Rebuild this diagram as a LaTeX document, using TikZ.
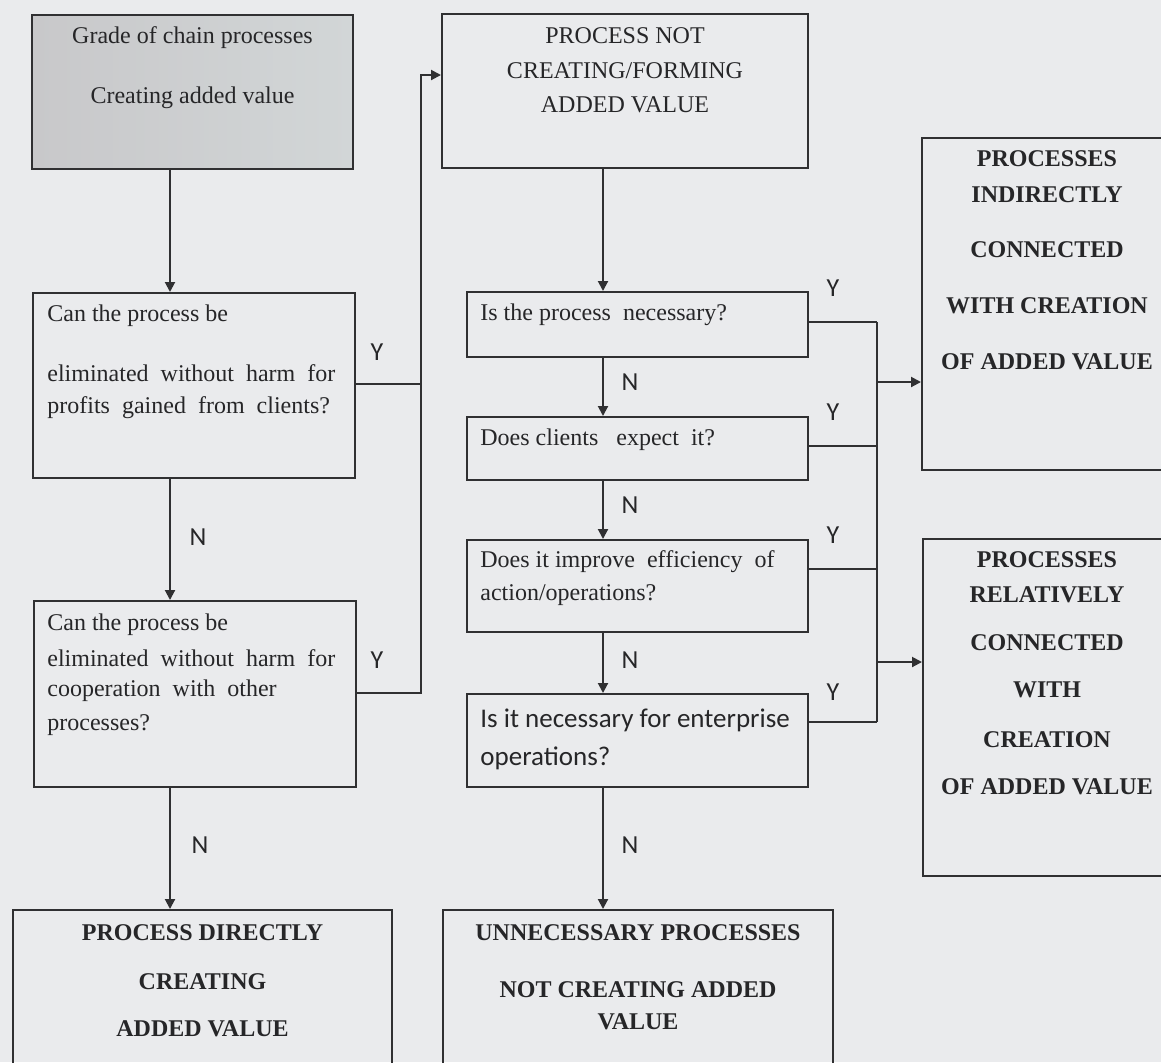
\documentclass[tikz,border=0pt]{standalone}
\usepackage{fontspec}
\setmainfont{Liberation Serif}
\newfontfamily\carl{Carlito}
\usetikzlibrary{arrows.meta,calc}
\definecolor{bg}{RGB}{234,235,237}
\definecolor{ln}{RGB}{48,48,50}
\definecolor{tx}{RGB}{38,38,40}
\tikzset{
 box/.style={draw=ln, line width=1pt, rectangle, inner sep=0pt},
 conn/.style={draw=ln, line width=1pt},
 arr/.style={conn, -{Triangle[length=5pt,width=5pt]}},
 lt/.style={anchor=west, inner sep=0pt, text=tx, font=\fontsize{12}{14}\selectfont},
 ct/.style={anchor=center, inner sep=0pt, text=tx, font=\fontsize{12}{14}\selectfont},
 bt/.style={anchor=center, inner sep=0pt, text=tx, font=\fontsize{12}{14}\selectfont\bfseries},
 st/.style={anchor=west, inner sep=0pt, text=tx, font=\carl\fontsize{13.5}{16}\selectfont},
 yn/.style={inner sep=0pt, text=tx, font=\carl\fontsize{13}{15}\selectfont},
}
\begin{document}
\begin{tikzpicture}[x=0.5pt,y=-0.5pt]
\useasboundingbox (0,0) rectangle (1161,1062);
\clip (0,0) rectangle (1161,1062);
\fill[bg] (0,0) rectangle (1161,1062);

% boxes
\node[box, minimum width=160.5pt, minimum height=77pt,
      left color={rgb,255:red,200;green,200;blue,202},
      middle color={rgb,255:red,222;green,232;blue,233},
      right color={rgb,255:red,210;green,214;blue,215}] (A) at (192.5,92) {};
\node[box, minimum width=183pt, minimum height=77pt] (B) at (625,91) {};
\node[box, minimum width=161pt, minimum height=92.5pt] (C) at (194,385.5) {};
\node[box, minimum width=161pt, minimum height=93pt] (D) at (195,694) {};
\node[box, minimum width=189.5pt, minimum height=82.5pt] (E) at (202.5,992.5) {};
\node[box, minimum width=170.5pt, minimum height=32.5pt] (F) at (637.5,324.5) {};
\node[box, minimum width=170.5pt, minimum height=31.5pt] (G) at (637.5,448.5) {};
\node[box, minimum width=170.5pt, minimum height=46pt] (H) at (637.5,586) {};
\node[box, minimum width=170.5pt, minimum height=46.5pt] (I) at (637.5,740.5) {};
\node[box, minimum width=195pt, minimum height=82.5pt] (J) at (638,992.5) {};
\node[box, minimum width=125pt, minimum height=166pt] (K) at (1047,304) {};
\node[box, minimum width=124.5pt, minimum height=168.5pt] (L) at (1047.5,707.5) {};

% texts
\node[ct] (a1) at (192.5,38) {Grade of chain processes};
\node[ct] (a2) at (192.5,98) {Creating added value};

\node[ct] (b1) at (625,36) {PROCESS NOT};
\node[ct] (b2) at (625,71) {CREATING/FORMING};
\node[ct] (b3) at (625,105) {ADDED VALUE};

\node[lt] (c1) at (47,316) {Can the process be};
\node[lt] (c2) at (47,373) {eliminated \ without \ harm \ for};
\node[lt] (c3) at (47,408) {profits \ gained \ from \ clients?};

\node[lt] (d1) at (47,625) {Can the process be};
\node[lt] (d2) at (47,658) {eliminated \ without \ harm \ for};
\node[lt] (d3) at (47,691) {cooperation \ with \ other};
\node[lt] (d4) at (47,725) {processes?};

\node[bt] (e1) at (202.5,933) {PROCESS DIRECTLY};
\node[bt] (e2) at (202.5,982) {CREATING};
\node[bt] (e3) at (202.5,1029) {ADDED VALUE};

\node[lt] (f1) at (480,315) {Is the process \ necessary?};
\node[lt] (g1) at (480,440) {Does clients \ \ expect \ it?};
\node[lt] (h1) at (480,562) {Does it improve \ efficiency \ of};
\node[lt] (h2) at (480,595) {action/operations?};
\node[st] (i1) at (480,720) {Is it necessary for enterprise};
\node[st] (i2) at (480,758) {operations?};

\node[bt] (j1) at (638,933) {UNNECESSARY PROCESSES};
\node[bt] (j2) at (638,990) {NOT CREATING ADDED};
\node[bt] (j3) at (638,1022) {VALUE};

\node[bt] (k1) at (1047,159) {PROCESSES};
\node[bt] (k2) at (1047,195) {INDIRECTLY};
\node[bt] (k3) at (1047,250) {CONNECTED};
\node[bt] (k4) at (1047,306) {WITH CREATION};
\node[bt] (k5) at (1047,362) {OF ADDED VALUE};

\node[bt] (l1) at (1047,560) {PROCESSES};
\node[bt] (l2) at (1047,595) {RELATIVELY};
\node[bt] (l3) at (1047,643) {CONNECTED};
\node[bt] (l4) at (1047,690) {WITH};
\node[bt] (l5) at (1047,740) {CREATION};
\node[bt] (l6) at (1047,787) {OF ADDED VALUE};

% guide coordinates
\coordinate (xa) at (170,0);
\coordinate (xb) at (603,0);
\coordinate (v1) at (421,0);
\coordinate (v2) at (877,0);
\coordinate (bin) at ($(B.north west)+(0,62)$);
\coordinate (cy) at ($(C.north east)+(0,92)$);
\coordinate (dy) at ($(D.north east)+(0,93)$);
\coordinate (fy) at ($(F.north east)+(0,31)$);
\coordinate (gy) at ($(G.north east)+(0,30)$);
\coordinate (hy) at ($(H.north east)+(0,30)$);
\coordinate (iy) at ($(I.north east)+(0,29)$);
\coordinate (kin) at ($(K.north west)+(0,245)$);
\coordinate (lin) at ($(L.north west)+(0,124)$);

% left column
\draw[arr] (A.south -| xa) -- (C.north -| xa);
\draw[arr] (C.south -| xa) -- (D.north -| xa);
\draw[arr] (D.south -| xa) -- (E.north -| xa);
\draw[conn] (cy) -- (cy -| v1);
\draw[arr] (dy) -- (dy -| v1) -- (v1 |- bin) -- (bin);

% middle column
\draw[arr] (B.south -| xb) -- (F.north -| xb);
\draw[arr] (F.south -| xb) -- (G.north -| xb);
\draw[arr] (G.south -| xb) -- (H.north -| xb);
\draw[arr] (H.south -| xb) -- (I.north -| xb);
\draw[arr] (I.south -| xb) -- (J.north -| xb);

% right side
\draw[conn] (fy) -- (fy -| v2);
\draw[conn] (gy) -- (gy -| v2);
\draw[conn] (hy) -- (hy -| v2);
\draw[conn] (iy) -- (iy -| v2);
\draw[conn] (fy -| v2) -- (iy -| v2);
\draw[arr] (kin -| v2) -- (kin);
\draw[arr] (lin -| v2) -- (lin);

% Y / N labels
\node[yn] (n1) at (198,537) {N};
\node[yn] (n2) at (200,845) {N};
\node[yn] (y1) at (377,352) {Y};
\node[yn] (y2) at (377,660) {Y};
\node[yn] (n3) at (630,382) {N};
\node[yn] (n4) at (630,505) {N};
\node[yn] (n5) at (630,660) {N};
\node[yn] (n6) at (630,845) {N};
\node[yn] (y3) at (833,288) {Y};
\node[yn] (y4) at (833,412) {Y};
\node[yn] (y5) at (833,535) {Y};
\node[yn] (y6) at (833,692) {Y};
\end{tikzpicture}
\end{document}
